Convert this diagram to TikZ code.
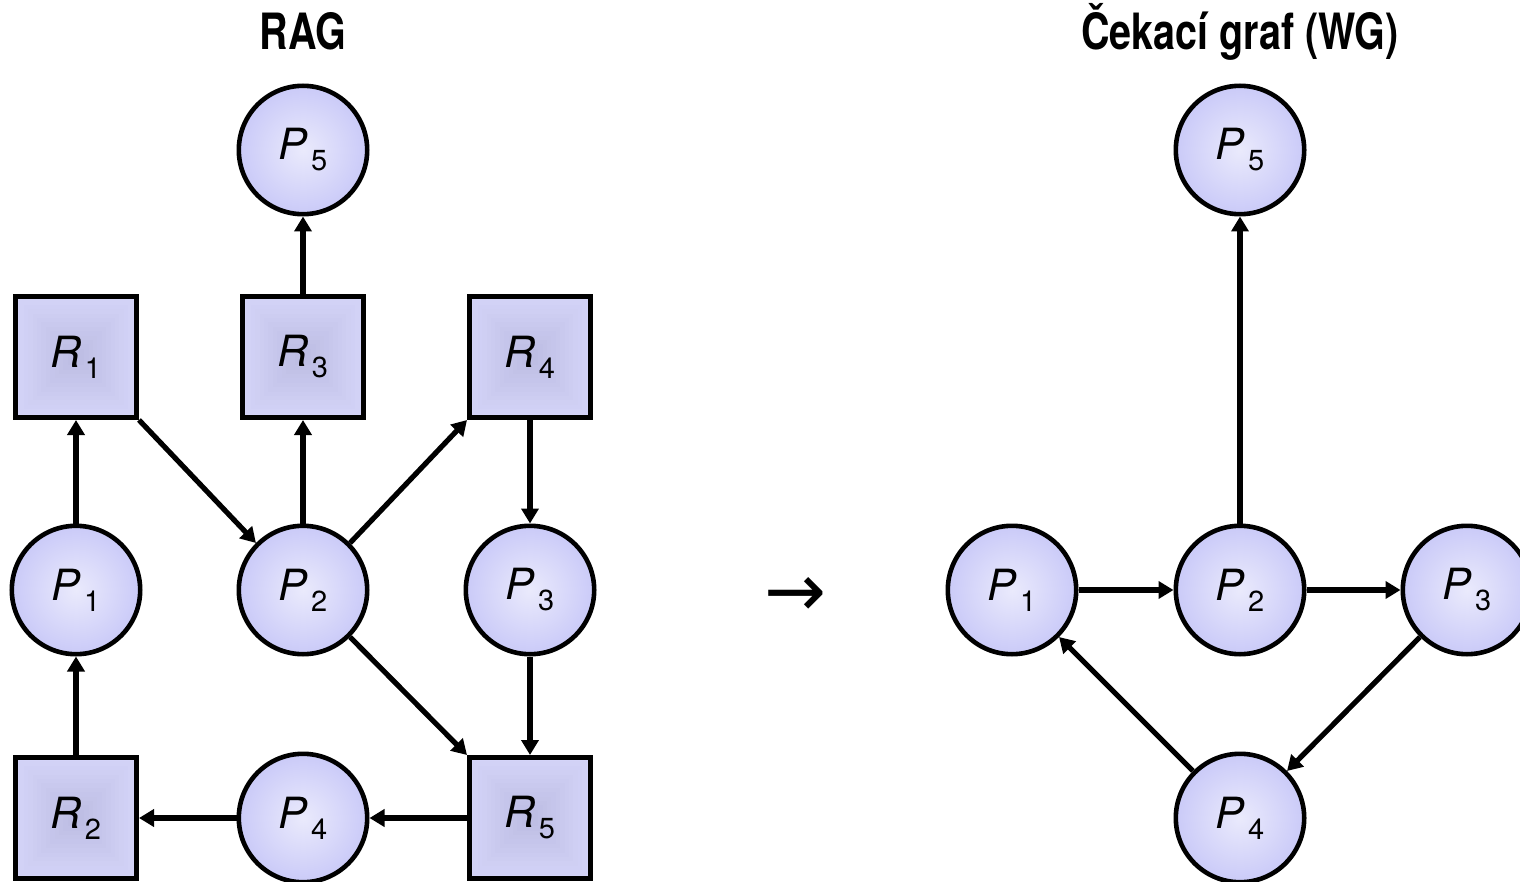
\documentclass[tikz,border=0pt]{standalone}
\usepackage{fontspec}
\setmainfont{TeX Gyre Heros}
\newfontfamily\titlefont[FakeStretch=0.79]{TeX Gyre Heros}
\newfontfamily\symfont{DejaVu Sans}
\usetikzlibrary{arrows.meta,calc}
\definecolor{sqout}{RGB}{212,212,248}
\definecolor{sqin}{RGB}{190,190,228}
\definecolor{circin}{RGB}{234,234,252}
\definecolor{circout}{RGB}{202,202,248}
\newcommand\nl[2]{\textit{#1}\kern1.5pt\raisebox{-5.5pt}{\fontsize{14.5}{14.5}\selectfont #2}}
\tikzset{
  proc/.style={circle, minimum size=64.2pt, inner sep=0pt, line width=2.3pt, draw=black,
    inner color=circin, outer color=circout, font=\fontsize{21.5}{21.5}\selectfont},
  res/.style={rectangle, minimum size=60.7pt, inner sep=0pt, line width=2.3pt, draw=black,
    font=\fontsize{21.5}{21.5}\selectfont,
    path picture={
      \foreach \i in {0,...,12}{
        \pgfmathsetmacro\m{\i*100/12}
        \fill[sqin!\m!sqout] ($(path picture bounding box.center)+(-30.5pt+\i*2.2pt,-30.5pt+\i*2.2pt)$)
          rectangle ($(path picture bounding box.center)+(30.5pt-\i*2.2pt,30.5pt-\i*2.2pt)$);
      }
    }},
  conn/.style={line width=2.6pt, -{Triangle[length=7.5pt,width=8.5pt]}},
  ttl/.style={font=\titlefont\bfseries\fontsize{25}{25}\selectfont, anchor=base}
}
\begin{document}
\begin{tikzpicture}[x=0.5pt,y=-0.5pt]
\useasboundingbox (0,0) rectangle (1520,882);
\clip (0,0) rectangle (1520,882);
% titles
\node[ttl] (t1) at (303,50) {RAG};
\node[ttl] (t2) at (1240,50) {Čekací graf (WG)};
% left graph
\node[proc] (lP5) at (303,150) {\nl{P}{5}};
\node[res]  (R1) at (76,357) {\nl{R}{1}};
\node[res]  (R3) at (303,357) {\nl{R}{3}};
\node[res]  (R4) at (530,357) {\nl{R}{4}};
\node[proc] (lP1) at (76,590) {\nl{P}{1}};
\node[proc] (lP2) at (303,590) {\nl{P}{2}};
\node[proc] (lP3) at (530,590) {\nl{P}{3}};
\node[res]  (R2) at (76,818) {\nl{R}{2}};
\node[proc] (lP4) at (303,818) {\nl{P}{4}};
\node[res]  (R5) at (530,818) {\nl{R}{5}};
\draw[conn] (R3) -- (lP5);
\draw[conn] (lP1) -- (R1);
\draw[conn] (R1.south east) -- (lP2.135);
\draw[conn] (lP2) -- (R3);
\draw[conn] (lP2.45) -- (R4.south west);
\draw[conn] (R4) -- (lP3);
\draw[conn] (lP2.-45) -- (R5.north west);
\draw[conn] (lP3) -- (R5);
\draw[conn] (R2) -- (lP1);
\draw[conn] (lP4) -- (R2);
\draw[conn] (R5) -- (lP4);
% arrow between
\node (arr) at (795,597) {\symfont\fontsize{37}{37}\selectfont →};
% right graph
\node[proc] (rP5) at (1240,150) {\nl{P}{5}};
\node[proc] (rP1) at (1012,590) {\nl{P}{1}};
\node[proc] (rP2) at (1240,590) {\nl{P}{2}};
\node[proc] (rP3) at (1467,590) {\nl{P}{3}};
\node[proc] (rP4) at (1240,818) {\nl{P}{4}};
\draw[conn] (rP2) -- (rP5);
\draw[conn] (rP1) -- (rP2);
\draw[conn] (rP2) -- (rP3);
\draw[conn] (rP3.225) -- (rP4.45);
\draw[conn] (rP4.135) -- (rP1.-45);
\end{tikzpicture}
\end{document}
